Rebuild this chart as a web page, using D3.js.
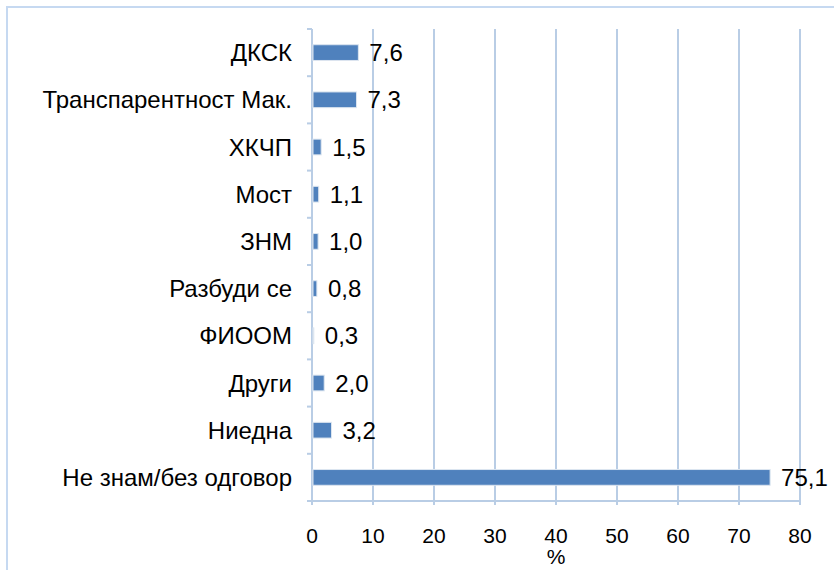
<!DOCTYPE html>
<html>
<head>
<meta charset="utf-8">
<script src="https://cdn.jsdelivr.net/npm/d3@7"></script>
<style>
  body { margin: 0; background: #fff; }
  text { font-family: 'Liberation Sans', Arial, sans-serif; fill: #000; }
</style>
</head>
<body>
<svg id="chart" width="834" height="570"></svg>
<script>
const CATEGORIES = ['ДКСК', 'Транспарентност Мак.', 'ХКЧП', 'Мост', 'ЗНМ', 'Разбуди се', 'ФИООМ', 'Други', 'Ниедна', 'Не знам/без одговор']
const VALUES = [7.6, 7.3, 1.5, 1.1, 1.0, 0.8, 0.3, 2.0, 3.2, 75.1]
const X_TICKS = [0, 10, 20, 30, 40, 50, 60, 70, 80]

const COLORS = {
  bar: '#4F81BD',
  barEdge: '#dde6f0',
  grid: '#B9CDE5',
  frame: '#C6D9F1',
}

const M = { left: 312, right: 800, top: 29, bottom: 501 }
const svg = d3.select('#chart')

// chart frame (only top and left edges visible)
svg.append('path')
  .attr('d', 'M7,570 L7,7 L834,7')
  .attr('fill', 'none')
  .attr('stroke', COLORS.frame)
  .attr('stroke-width', 2)

const x = d3.scaleLinear().domain([0, 80]).range([M.left, M.right])
const y = d3.scaleBand().domain(CATEGORIES).range([M.top, M.bottom]).paddingInner(2 / 3).paddingOuter(1 / 3)
const yEdges = d3.scaleLinear().domain([0, CATEGORIES.length]).range([M.top, M.bottom])

// vertical gridlines
svg.append('g')
  .selectAll('line')
  .data(X_TICKS)
  .join('line')
  .attr('x1', d => x(d))
  .attr('x2', d => x(d))
  .attr('y1', M.top)
  .attr('y2', M.bottom + 4)
  .attr('stroke', COLORS.grid)
  .attr('stroke-width', 2)

// axis lines
svg.append('line')
  .attr('x1', M.left - 5).attr('x2', M.right + 1)
  .attr('y1', M.bottom).attr('y2', M.bottom)
  .attr('stroke', COLORS.grid).attr('stroke-width', 2)

svg.append('g')
  .selectAll('line')
  .data(d3.range(CATEGORIES.length + 1))
  .join('line')
  .attr('x1', M.left - 5)
  .attr('x2', M.left)
  .attr('y1', d => yEdges(d))
  .attr('y2', d => yEdges(d))
  .attr('stroke', COLORS.grid)
  .attr('stroke-width', 2)

// bars
svg.append('g')
  .selectAll('rect')
  .data(VALUES)
  .join('rect')
  .attr('x', x(0) + 1)
  .attr('y', (d, i) => y(CATEGORIES[i]))
  .attr('width', d => Math.max(0, x(d) - x(0) - 1))
  .attr('height', y.bandwidth())
  .attr('fill', COLORS.bar)
  .attr('stroke', COLORS.barEdge)
  .attr('stroke-width', 1)

// value labels
svg.append('g')
  .selectAll('text')
  .data(VALUES)
  .join('text')
  .attr('x', d => x(d) + 11)
  .attr('y', (d, i) => y(CATEGORIES[i]) + y.bandwidth() / 2)
  .attr('dy', '0.36em')
  .attr('font-size', 24)
  .text(d => d.toFixed(1).replace('.', ','))

// category labels
svg.append('g')
  .selectAll('text')
  .data(CATEGORIES)
  .join('text')
  .attr('x', 292)
  .attr('y', d => y(d) + y.bandwidth() / 2)
  .attr('dy', '0.36em')
  .attr('text-anchor', 'end')
  .attr('font-size', 24)
  .text(d => d)

// x tick labels
svg.append('g')
  .selectAll('text')
  .data(X_TICKS)
  .join('text')
  .attr('x', d => x(d))
  .attr('y', 543)
  .attr('text-anchor', 'middle')
  .attr('font-size', 21)
  .text(d => d)

svg.append('text')
  .attr('x', x(40))
  .attr('y', 564)
  .attr('text-anchor', 'middle')
  .attr('font-size', 21)
  .text('%')
</script>
</body>
</html>
